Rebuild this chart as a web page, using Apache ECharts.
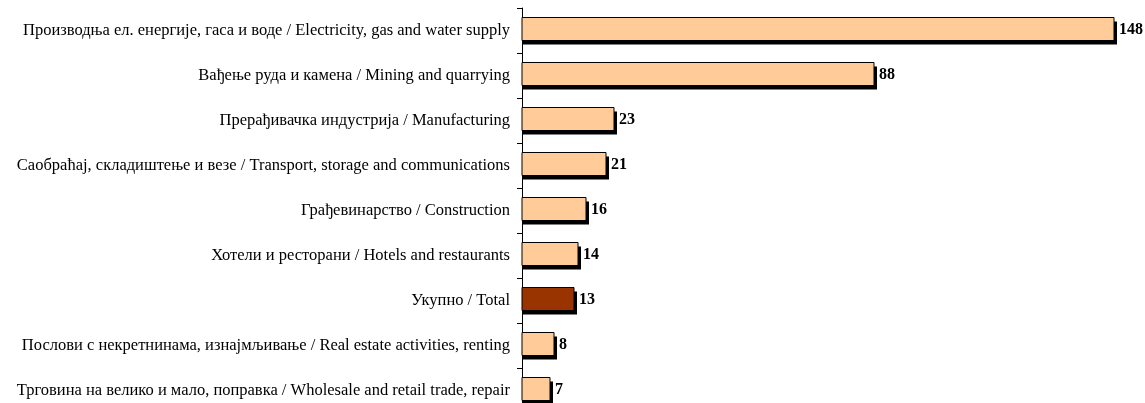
<!DOCTYPE html>
<html>
<head>
<meta charset="utf-8">
<script src="https://cdn.jsdelivr.net/npm/echarts@6/dist/echarts.min.js"></script>
<style>
  html, body { margin: 0; padding: 0; background: #fff; }
  #chart { width: 1145px; height: 403px; }
</style>
</head>
<body>
<div id="chart"></div>
<script>
// категорије, одозго надоле
const categories = [
  'Производња ел. енергије, гаса и воде / Electricity, gas and water supply',
  'Вађење руда и камена / Mining and quarrying',
  'Прерађивачка индустрија / Manufacturing',
  'Саобраћај, складиштење и везе / Transport, storage and communications',
  'Грађевинарство / Construction',
  'Хотели и ресторани / Hotels and restaurants',
  'Укупно / Total',
  'Послови с некретнинама, изнајмљивање / Real estate activities, renting',
  'Трговина на велико и мало, поправка / Wholesale and retail trade, repair'
]
const values = [148, 88, 23, 21, 16, 14, 13, 8, 7]
const totalLabel = 'Укупно / Total'

const BAR_H = 23

//бар са сенком (сенка одвојено, да ивица нема дупли обрис)
function renderBar(params, api) {
  const idx = api.value(0)
  const val = api.value(1)
  const start = api.coord([0, idx])
  const end = api.coord([val, idx])
  const y = start[1] - BAR_H / 2 - 1.5
  const w = end[0] - start[0]
  const fill = categories[idx] === totalLabel ? '#993300' : '#FFCC99'
  return {
    type: 'group',
    children: [
      {
        type: 'rect',
        shape: { x: start[0] + 1, y: y + 4, width: w + 2, height: BAR_H },
        style: { fill: '#000' }
      },
      {
        type: 'rect',
        shape: { x: start[0], y: y, width: w, height: BAR_H },
        style: { fill: fill, stroke: '#000', lineWidth: 1 }
      },
      {
        type: 'text',
        style: {
          text: String(val),
          x: end[0] + 5,
          y: y + BAR_H / 2 + 1,
          verticalAlign: 'middle',
          align: 'left',
          font: 'bold 16px "Liberation Serif"',
          fill: '#000'
        }
      }
    ]
  }
}

const chart = echarts.init(document.getElementById('chart'))

chart.setOption({
  backgroundColor: '#ffffff',
  animation: false,
  grid: {
    left: 522,
    top: 8,
    width: 600,
    height: 405,
    containLabel: false,
    outerBoundsMode: 'none'
  },
  xAxis: {
    type: 'value',
    min: 0,
    max: 150,
    show: false
  },
  yAxis: {
    type: 'category',
    inverse: true,
    data: categories,
    axisLine: { show: true, lineStyle: { color: '#000', width: 1 } },
    axisTick: { show: true, length: 5, lineStyle: { color: '#000' } },
    axisLabel: {
      margin: 12,
      fontFamily: 'Liberation Serif',
      fontSize: 16.5,
      color: '#000'
    },
    splitLine: { show: false }
  },
  series: [{
    type: 'custom',
    renderItem: renderBar,
    encode: { x: 1, y: 0 },
    data: values.map((v, i) => [i, v])
  }]
})
</script>
</body>
</html>
